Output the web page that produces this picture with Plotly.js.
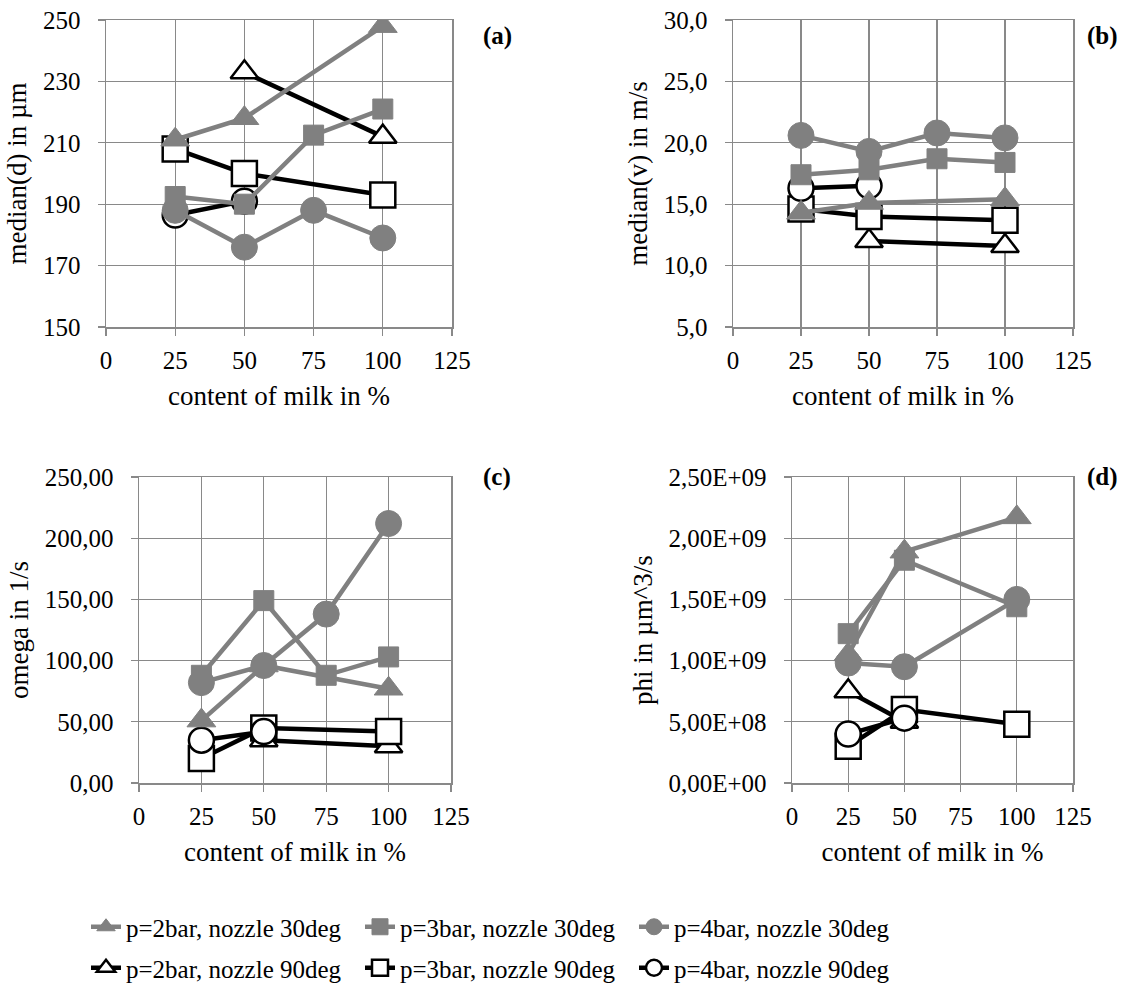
<!DOCTYPE html>
<html>
<head>
<meta charset="utf-8">
<script src="https://cdn.plot.ly/plotly-3.0.1.min.js"></script>
<style>html,body{margin:0;padding:0;background:#fff;}#chart{width:1142px;height:992px;}</style>
</head>
<body>
<div id="chart"></div>
<script>
// ---- data ----
var milk = [25, 50, 75, 100];
var seriesNames = ['p=2bar, nozzle 30deg','p=3bar, nozzle 30deg','p=4bar, nozzle 30deg',
                   'p=2bar, nozzle 90deg','p=3bar, nozzle 90deg','p=4bar, nozzle 90deg'];
// (a) median(d) in µm
var dP2n30 = [211, 218, null, 248];
var dP3n30 = [192.5, 190, 212.5, 221];
var dP4n30 = [188, 176, 188, 179];
var dP2n90 = [null, 233, null, 212];
var dP3n90 = [208, 200, null, 193];
var dP4n90 = [186.5, 191, null, null];
// (b) median(v) in m/s
var vP2n30 = [14.3, 15.1, null, 15.4];
var vP3n30 = [17.4, 17.8, 18.7, 18.4];
var vP4n30 = [20.6, 19.3, 20.8, 20.4];
var vP2n90 = [null, 12.0, null, 11.6];
var vP3n90 = [14.6, 14.0, null, 13.7];
var vP4n90 = [16.3, 16.5, null, null];
// (c) omega in 1/s
var oP2n30 = [51, 96, null, 77];
var oP3n30 = [88, 149, 88, 103];
var oP4n30 = [82, 96, 138, 212];
var oP2n90 = [null, 35, null, 30];
var oP3n90 = [20, 45, null, 42];
var oP4n90 = [35, 42, null, null];
// (d) phi in µm^3/s
var pP2n30 = [1.05e9, 1.89e9, null, 2.17e9];
var pP3n30 = [1.22e9, 1.82e9, null, 1.44e9];
var pP4n30 = [0.98e9, 0.95e9, null, 1.50e9];
var pP2n90 = [0.75e9, 0.50e9, null, null];
var pP3n90 = [0.30e9, 0.60e9, null, 0.48e9];
var pP4n90 = [0.40e9, 0.53e9, null, null];

var xTicks = [0, 25, 50, 75, 100, 125];
var dTicks = [150, 170, 190, 210, 230, 250];
var vTicks = [5, 10, 15, 20, 25, 30];
var oTicks = [0, 50, 100, 150, 200, 250];
var pTicks = [0, 5e8, 1e9, 1.5e9, 2e9, 2.5e9];
var pTickText = ['0,00E+00','5,00E+08','1,00E+09','1,50E+09','2,00E+09','2,50E+09'];
var panelLabels = ['(a)','(b)','(c)','(d)'];
var yTitles = ['median(d) in µm','median(v) in m/s','omega in 1/s','phi in µm^3/s'];
var xTitle = 'content of milk in %';

// ---- styles ----
var GRAY = '#808080', BLACK = '#000000', GRID = '#898989';
var FONT = 'Liberation Serif';
var styles = [
  {sym:'triangle-up', size:25, color:GRAY, fill:GRAY, lw:1, legend:'legend'},
  {sym:'square', size:20, color:GRAY, fill:GRAY, lw:1, legend:'legend'},
  {sym:'circle', size:26, color:GRAY, fill:GRAY, lw:1, legend:'legend'},
  {sym:'triangle-up', size:24, color:BLACK, fill:'#ffffff', lw:2.5, legend:'legend2'},
  {sym:'square', size:25, color:BLACK, fill:'#ffffff', lw:2.5, legend:'legend2'},
  {sym:'circle', size:25, color:BLACK, fill:'#ffffff', lw:2.5, legend:'legend2'}
];
var panels = [
  {ax:'', data:[dP2n30,dP3n30,dP4n30,dP2n90,dP3n90,dP4n90]},
  {ax:'2', data:[vP2n30,vP3n30,vP4n30,vP2n90,vP3n90,vP4n90]},
  {ax:'3', data:[oP2n30,oP3n30,oP4n30,oP2n90,oP3n90,oP4n90]},
  {ax:'4', data:[pP2n30,pP3n30,pP4n30,pP2n90,pP3n90,pP4n90]}
];
// draw black series first, gray on top
var drawOrder = [3,4,5,0,1,2];
var traces = [];
panels.forEach(function(p, pi){
  drawOrder.forEach(function(si){
    var s = styles[si];
    traces.push({
      type:'scatter', mode:'lines+markers', x:milk, y:p.data[si],
      name:seriesNames[si], connectgaps:true,
      xaxis:'x'+p.ax, yaxis:'y'+p.ax,
      line:{color:s.color, width:4.5},
      marker:{symbol:s.sym, size:s.size, color:s.fill, line:{color:s.color, width:s.lw}},
      showlegend: pi === 0, legend:s.legend, legendrank: si,
      hoverinfo:'skip'
    });
  });
});

function W(px){return px/1142;}
function H(px){return 1 - px/992;}
function xax(x0, x1, anchor){
  return {domain:[W(x0), W(x1)], anchor:anchor, range:[0,125], tickvals:xTicks,
    showgrid:true, gridcolor:GRID, gridwidth:1.3, showline:true, linecolor:GRID, linewidth:1.5,
    mirror:true, ticks:'outside', ticklen:7, tickcolor:GRID, tickwidth:1.3, zeroline:false,
    tickfont:{family:FONT, size:25, color:'#000'}, ticklabelstandoff:3,
    title:{text:xTitle, font:{family:FONT, size:27, color:'#000'}, standoff:13},
    fixedrange:true};
}
function yax(y0, y1, anchor, range, ticks, fmt, title){
  var a = {domain:[H(y1), H(y0)], anchor:anchor, range:range, tickvals:ticks,
    showgrid:true, gridcolor:GRID, gridwidth:1.3, showline:true, linecolor:GRID, linewidth:1.5,
    mirror:true, ticks:'outside', ticklen:7, tickcolor:GRID, tickwidth:1.3, zeroline:false,
    tickfont:{family:FONT, size:25, color:'#000'}, ticklabelstandoff:12,
    title:{text:title, font:{family:FONT, size:27, color:'#000'}, standoff:8},
    fixedrange:true};
  if (fmt) a.tickformat = fmt;
  return a;
}

var layout = {
  width:1142, height:992, paper_bgcolor:'#fff', plot_bgcolor:'#fff',
  margin:{l:0, r:0, t:0, b:0}, separators:',.',
  font:{family:FONT, color:'#000'},
  xaxis: xax(106, 452, 'y'),
  yaxis: yax(20, 327, 'x', [150,250], dTicks, 'd', yTitles[0]),
  xaxis2: xax(733, 1073, 'y2'),
  yaxis2: yax(20, 327, 'x2', [5,30], vTicks, '.1f', yTitles[1]),
  xaxis3: xax(139, 451, 'y3'),
  yaxis3: yax(477, 783, 'x3', [0,250], oTicks, '.2f', yTitles[2]),
  xaxis4: xax(792, 1073, 'y4'),
  yaxis4: yax(477, 783, 'x4', [0,2.5e9], pTicks, null, yTitles[3]),
  legend:{orientation:'h', x:W(86), xanchor:'left', y:H(927), yanchor:'middle',
    entrywidth:229, entrywidthmode:'pixels', bgcolor:'rgba(0,0,0,0)',
    font:{family:FONT, size:25, color:'#000'}, traceorder:'normal'},
  legend2:{orientation:'h', x:W(86), xanchor:'left', y:H(968), yanchor:'middle',
    entrywidth:229, entrywidthmode:'pixels', bgcolor:'rgba(0,0,0,0)',
    font:{family:FONT, size:25, color:'#000'}, traceorder:'normal'},
  annotations:[
    {text:'<b>'+panelLabels[0]+'</b>', xref:'paper', yref:'paper', x:W(497), y:H(20), showarrow:false, font:{family:FONT, size:25}},
    {text:'<b>'+panelLabels[1]+'</b>', xref:'paper', yref:'paper', x:W(1120), y:H(20), showarrow:false, font:{family:FONT, size:25}},
    {text:'<b>'+panelLabels[2]+'</b>', xref:'paper', yref:'paper', x:W(497), y:H(477), showarrow:false, font:{family:FONT, size:25}},
    {text:'<b>'+panelLabels[3]+'</b>', xref:'paper', yref:'paper', x:W(1120), y:H(477), showarrow:false, font:{family:FONT, size:25}}
  ],
  showlegend:true
};
layout.yaxis4.ticktext = pTickText;

Plotly.newPlot('chart', traces, layout, {staticPlot:true, displayModeBar:false});
</script>
</body>
</html>
